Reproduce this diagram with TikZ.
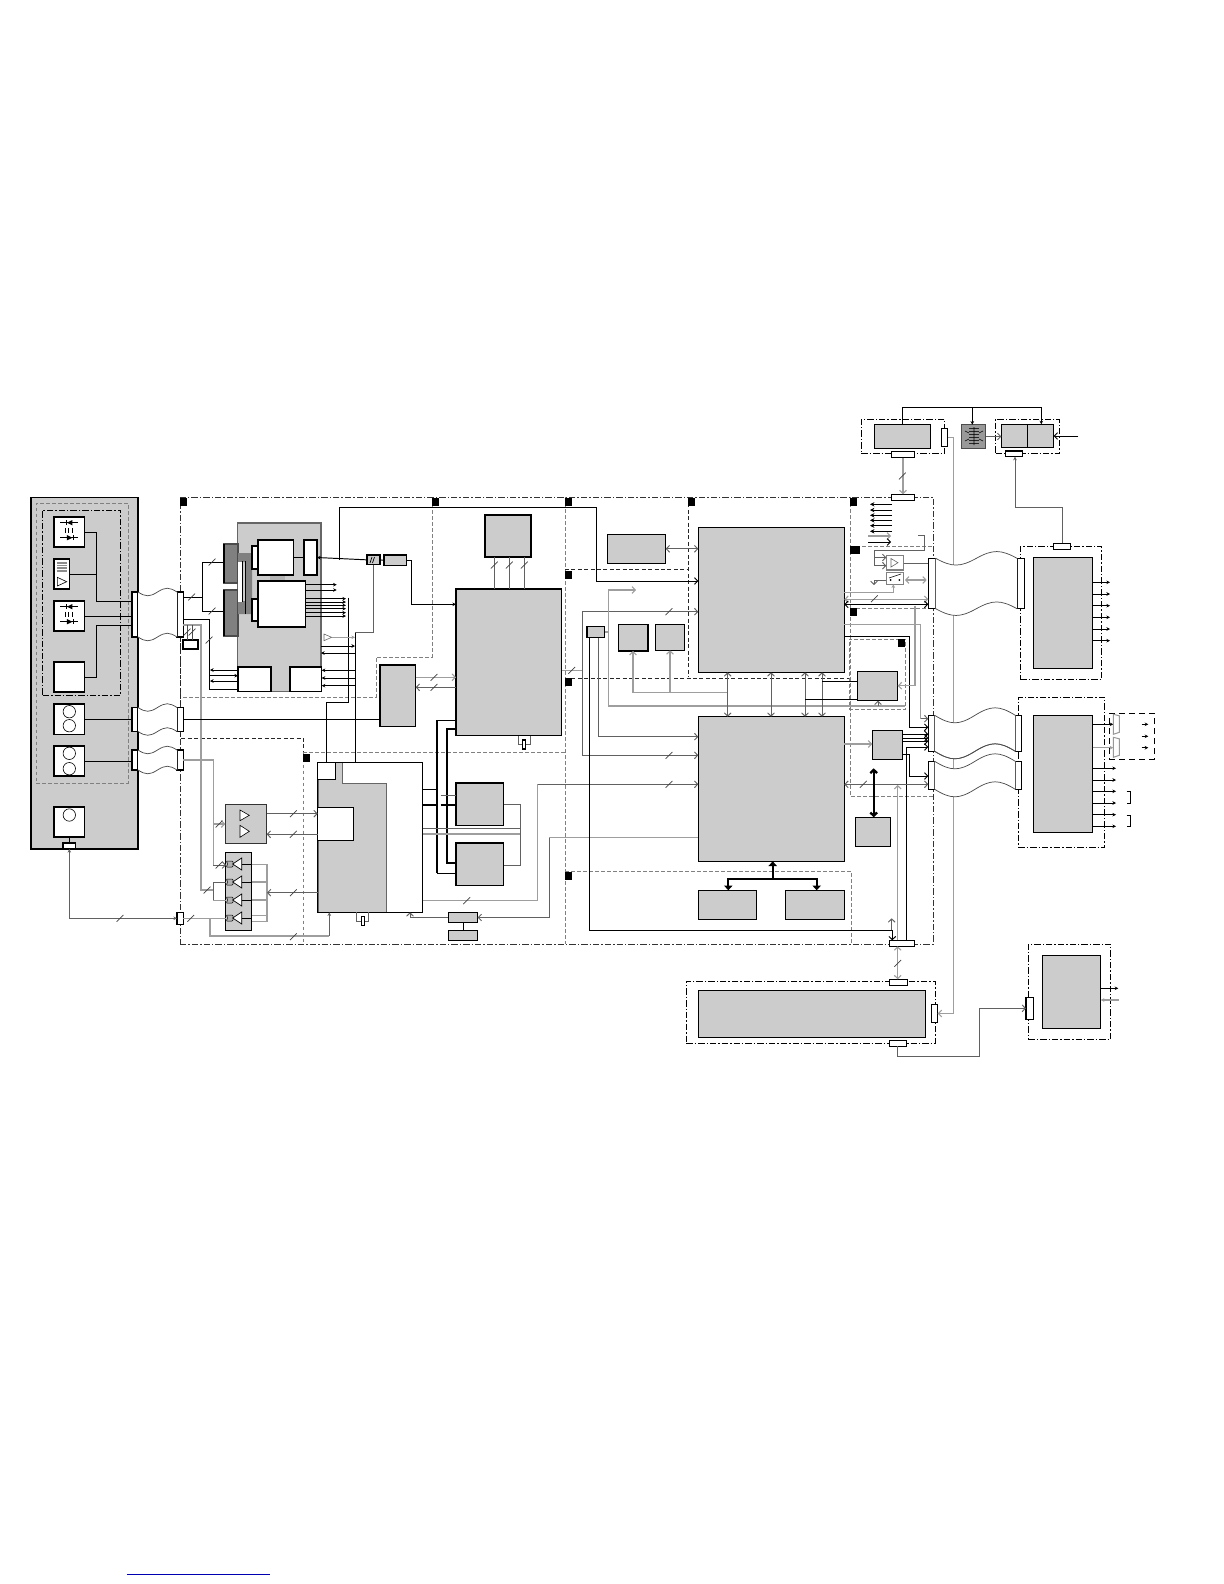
\documentclass[tikz,border=0pt]{standalone}
\usetikzlibrary{arrows.meta, calc}
\definecolor{BlockGrey}{HTML}{CCCCCC}
\definecolor{DarkBlock}{HTML}{808080}
\tikzset{
  outline/.style={draw, line width=.55bp, inner sep=0pt, outer sep=0pt},
  span/.style n args={4}{minimum width={(#3-#1)*0.5bp}, minimum height={(#4-#2)*0.5bp},
    at={({(#1+#3)/2},{(#2+#4)/2})}},
  greyblock/.style={outline, fill=BlockGrey},
  darkblock/.style={outline, fill=DarkBlock, draw=black!70},
  whiteblock/.style={outline, fill=white},
  framebox/.style={draw=black!80, line width=.42bp, inner sep=0pt, outer sep=0pt,
    dash pattern=on 3.2bp off 1bp on .7bp off 1bp},
  zonebox/.style={draw=black!50, line width=.42bp, inner sep=0pt, outer sep=0pt,
    dash pattern=on 1.8bp off 1.2bp},
  zone/.style={draw=black!50, line width=.42bp, dash pattern=on 1.8bp off 1.2bp},
  zonedark/.style={draw=black!85, line width=.4bp, dash pattern=on 2bp off 1.2bp},
  blackmark/.style={fill=black, inner sep=0pt, outer sep=0pt, minimum width=3.5bp, minimum height=4.2bp, anchor=north west},
  wire/.style={line width=.48bp},
  wiredark/.style={line width=.48bp, black!62},
  wirelight/.style={line width=.55bp, black!38},
  wirethick/.style={line width=1.15bp},
  wavewire/.style={line width=.36bp, black!70},
  busmark/.style={line width=.36bp, black!75},
  head/.tip={Stealth[length=1.8bp,width=1.8bp]},
  bushead/.tip={Triangle[length=2.4bp,width=4.2bp]},
}
\newcommand{\wavecurve}[3]{(#1) .. controls ($(#1)!.2!(#2)+(0,#3)$) and ($(#1)!.3!(#2)+(0,#3)$)
  .. ($(#1)!.5!(#2)$) .. controls ($(#1)!.7!(#2)-(0,#3)$) and ($(#1)!.8!(#2)-(0,#3)$) .. (#2)}
\newcommand{\ribbon}[3]{
  \fill[white] \wavecurve{#1.north east}{#2.north west}{#3} -- \wavecurve{#2.south west}{#1.south east}{-#3} -- cycle;
  \draw[wavewire] \wavecurve{#1.north east}{#2.north west}{#3};
  \draw[wavewire] \wavecurve{#1.south east}{#2.south west}{#3};
}
\newcommand{\diodes}[1]{
  \begin{scope}[shift={(#1)}, line width=.35bp]
    \draw (-9,-9.3) -- (9,-9.3) (-3,-12) -- (-3,-6.6);
    \fill (-2.5,-9.3) -- (3,-12) -- (3,-6.6) -- cycle;
    \draw (-9,5.7) -- (9,5.7) (3.5,3) -- (3.5,8.4);
    \fill (3,5.7) -- (-2.5,3) -- (-2.5,8.4) -- cycle;
    \draw (-4,-4) -- (-4,1) (-.7,-4) -- (-.7,1) (2.7,-4) -- (2.7,1);
  \end{scope}
}
\begin{document}
\begin{tikzpicture}[x=0.5bp, y=-0.5bp, >={Straight Barb[length=1.6bp,width=3.4bp]}]
  \useasboundingbox (0,0) rectangle (1224,1584);
  % left panel
  \node[greyblock, span={31}{497.5}{138}{849}] (panel) {};
  \node[zonebox, span={36.3}{503}{128}{783}] (panelzone) {};
  \node[framebox, draw=black, span={42.7}{510}{120.7}{695}] (opticzone) {};
  \node[whiteblock, span={54}{517}{84.7}{547}] (optica) {};
  \node[whiteblock, span={54}{559}{69.7}{589}] (driver) {};
  \node[whiteblock, span={54}{601}{84.7}{631}] (opticb) {};
  \node[whiteblock, span={54}{662}{84.7}{692}] (lens) {};
  \node[whiteblock, span={54}{704}{84.7}{734.5}] (fana) {};
  \node[whiteblock, span={54}{746}{84.7}{776}] (fanb) {};
  \node[whiteblock, span={54}{807}{84.7}{837}] (fanc) {};
  \node[whiteblock, span={63}{843}{75.7}{849}] (panelport) {};
  \node[whiteblock, span={132}{592}{138}{637}] (lpa) {};
  \node[whiteblock, span={132}{707.5}{138}{731.5}] (lpb) {};
  \node[whiteblock, span={132}{750}{138}{770}] (lpc) {};
  \diodes{69.4,532}
  \diodes{69.4,616}
  \fill[black!45] (57.3,561.7) rectangle (66.7,571.7);
  \foreach \sy in {564,566.5,569} \draw[white, line width=.3bp] (57.3,\sy) -- (66.7,\sy);
  \draw[line width=.3bp] (57.3,577.3) -- (66.7,581.7) -- (57.3,586) -- cycle;
  \foreach \cx/\cy in {69.3/711.7, 69.3/725.7, 69.3/753.3, 69.3/768.7, 69.3/815}
    \draw[line width=.3bp] (\cx,\cy) circle (6.2);
  % board and zones
  \node[framebox, span={180}{497}{933}{944}] (board) {};
  \draw[zone] (183,697) -- (376,697) -- (376,657) -- (432,657) -- (432,497);
  \draw[zonedark] (180,637) -- (180,738) -- (303,738) -- (303,752.7);
  \draw[zone] (303,752.7) -- (565,752.7) (303,752.7) -- (303,944);
  \draw[zone] (565,497) -- (565,944);
  \draw[zonedark] (565,569.3) -- (688,569.3) (688,497) -- (688,676.7) (565,678) -- (850,678);
  \draw[zone] (850,497) -- (850,796) -- (933,796) (850,546) -- (933,546) (850,608) -- (933,608);
  \draw[zone] (565,871.7) -- (851.7,871.7) -- (851.7,944);
  \node[zonebox, span={849}{639}{905.5}{709}] (sensezone) {};
  \foreach \mx/\my [count=\mi] in {180/497.5, 432/497.5, 565/497.5, 688/497.5, 850/497.5, 565/571, 565/678, 565/872, 303/754, 850/608, 898/639}
    \node[blackmark] (mark\mi) at (\mx,\my) {};
  \node[blackmark, minimum width=5bp] (markwide) at (850,546) {};
  % video block
  \node[greyblock, draw=black!60, span={237.7}{523}{321}{691.7}] (video) {};
  \node[darkblock, span={224}{544}{238}{583}] (ddra) {};
  \node[darkblock, span={224}{590}{238}{636}] (ddrb) {};
  \draw[line width=1bp] (224,544) -- (224,583) (224,590) -- (224,636);
  \fill[DarkBlock] (238,553) rectangle (252,562) (238,601) rectangle (252,614) (245,562) rectangle (252,601);
  \fill[white] (238,562) rectangle (242.7,601.5);
  \draw[wire] (242.7,561) -- (242.7,601.5) (245.5,561) -- (245.5,614);
  \fill[DarkBlock!60] (270,575) rectangle (285,581);
  \node[whiteblock, span={258}{540}{293.7}{575}] (viewa) {};
  \node[whiteblock, span={252}{546}{258}{569}] (taba) {};
  \node[whiteblock, span={258}{581}{305.7}{627}] (viewb) {};
  \node[whiteblock, span={252}{599}{258}{621}] (tabb) {};
  \node[whiteblock, span={304}{540}{317}{575}] (buffer) {};
  \node[whiteblock, span={238}{667}{271}{691.7}] (ioa) {};
  \node[whiteblock, span={290}{667}{321.7}{691.7}] (iob) {};
  \draw[wire] (viewa.east) -- (buffer.west);
  \node[whiteblock, span={177}{592}{183.3}{637}] (rpa) {};
  \node[whiteblock, span={177}{707.5}{183.3}{731.5}] (rpb) {};
  \node[whiteblock, span={177}{750}{183.3}{770}] (rpc) {};
  \node[whiteblock, span={177}{912.3}{183.3}{924.3}] (rearport) {};
  \node[whiteblock, span={183}{640}{198}{649}] (usb) {};
  % processors and memories
  \node[greyblock, span={367}{555}{380}{564.7}] (hfilt) {};
  \node[greyblock, span={384}{555}{406.7}{565.7}] (hgate) {};
  \node[greyblock, span={380}{665}{415.7}{726.7}] (bridge) {};
  \node[greyblock, span={485}{515}{531}{557}] (flash) {};
  \node[greyblock, span={456}{589}{561.7}{735.7}] (decoder) {};
  \node[greyblock, span={456}{783}{503.7}{825.7}] (rama) {};
  \node[greyblock, span={456}{843}{503.7}{885.7}] (ramb) {};
  \node[whiteblock, span={317.7}{762.3}{422.7}{912.3}] (ctrl) {};
  \fill[BlockGrey, draw=black!60, line width=.45bp] (342.7,762.6) -- (342.7,783.3) -- (386.7,783.3) -- (386.7,912) -- (318,912) -- (318,762.6) -- cycle;
  \node[whiteblock, span={317.7}{762.3}{335.7}{779.7}] (ctrltab) {};
  \node[whiteblock, span={317.7}{807.3}{353.7}{840.3}] (ctrlcore) {};
  \draw[line width=.55bp] (ctrl.north west) rectangle (ctrl.south east);
  \node[greyblock, span={448.3}{912.3}{477.7}{922.7}] (slota) {};
  \node[greyblock, span={448.3}{930.3}{477.7}{940.7}] (slotb) {};
  \node[whiteblock, span={361.3}{916.7}{364.7}{925.7}] (xtalb) {};
  \node[whiteblock, span={522.3}{740}{525.7}{749}] (xtala) {};
  \node[greyblock, span={607.3}{534.3}{665.7}{563.3}] (cache) {};
  \node[greyblock, span={587}{626.3}{604.7}{637.7}] (clock) {};
  \node[greyblock, span={618.3}{624.7}{648}{651}] (tuna) {};
  \node[greyblock, span={655.3}{624.7}{684.7}{650.3}] (tunb) {};
  \node[greyblock, span={698.3}{527.3}{844.3}{672.3}] (cpua) {};
  \node[greyblock, span={698.3}{716.7}{844.3}{861.3}] (cpub) {};
  \node[greyblock, span={698.3}{890.3}{756.7}{919.3}] (dram) {};
  \node[greyblock, span={785.3}{890.3}{844.3}{919.3}] (rom) {};
  \node[greyblock, span={857.3}{671.3}{897.7}{700.7}] (sense) {};
  \node[greyblock, span={872.3}{730.3}{902.7}{759.3}] (lvds) {};
  \node[greyblock, span={855.3}{817.3}{890.7}{846.7}] (eprom) {};
  % audio and gates
  \node[greyblock, draw=black!80, span={225.3}{804.3}{266.7}{843.3}] (amp) {};
  \node[greyblock, span={225.3}{852.3}{251.7}{930.7}] (gates) {};
  \draw[fill=white, line width=.3bp] (240,810) -- (249.3,815.3) -- (240,820.7) -- cycle;
  \draw[fill=white, line width=.3bp] (240,825.3) -- (249.3,831.3) -- (240,837.3) -- cycle;
  \foreach \gy in {864,882,900,918} {
    \draw[fill=black!30, line width=.25bp, rounded corners=.5pt] (226,\gy-3) -- (233,\gy-3) -- (233,\gy+3) -- (226,\gy+3) -- (228,\gy) -- cycle;
    \draw[fill=white, line width=.35bp] (241.7,\gy-6) -- (232.7,\gy) -- (241.7,\gy+6) -- cycle;
    \draw[wire] (241.7,\gy) -- (gates.east |- 0,\gy);
  }
  % right hand units
  \node[framebox, draw=black, span={861.3}{419}{944.7}{453.3}] (psuzone) {};
  \node[greyblock, span={874.3}{424.3}{930.3}{448.3}] (psu) {};
  \node[whiteblock, span={941.3}{428.3}{947.7}{446.7}] (psuport) {};
  \node[whiteblock, span={891.3}{451.3}{914.7}{457.7}] (psulow) {};
  \node[greyblock, fill=black!40, draw=black!70, span={961.7}{424.7}{985.7}{448.3}] (trafo) {};
  \node[framebox, draw=black, span={995.7}{419}{1059.3}{453.3}] (invzone) {};
  \node[greyblock, span={1001.3}{424.3}{1053.7}{447.3}] (inv) {};
  \draw[wire] (1027.3,424.3) -- (1027.3,447.3);
  \node[whiteblock, span={1005.3}{451}{1022.7}{456.7}] (invport) {};
  \node[whiteblock, span={891.3}{494.3}{914.7}{500.3}] (boardtop) {};
  \node[framebox, draw=black, span={1020.3}{546.3}{1101.7}{679.3}] (drvzone) {};
  \node[greyblock, span={1033.7}{557.3}{1092.7}{668.3}] (drv) {};
  \node[whiteblock, span={1053.3}{543.3}{1070.7}{549.3}] (drvport) {};
  \node[framebox, draw=black, span={1018.3}{697.3}{1104.7}{847.3}] (tconzone) {};
  \node[greyblock, span={1033.7}{715.3}{1092.7}{832.3}] (tcon) {};
  \node[framebox, draw=black, dash pattern=on 3bp off 2bp, span={1109.3}{713.3}{1154}{759.3}] (outzone) {};
  \node[whiteblock, span={928.3}{558.3}{935.7}{608.7}] (ribal) {};
  \node[whiteblock, span={1017}{558.3}{1024.3}{608.7}] (ribar) {};
  \node[whiteblock, span={928.3}{715.3}{934.7}{751.3}] (ribbl) {};
  \node[whiteblock, span={1015.3}{715.3}{1021.7}{751.3}] (ribbr) {};
  \node[whiteblock, span={928.3}{761.3}{934.7}{789.3}] (ribcl) {};
  \node[whiteblock, span={1015.3}{761.3}{1021.7}{789.3}] (ribcr) {};
  \node[whiteblock, span={889.3}{940.3}{914.3}{946.3}] (boardlow) {};
  \node[framebox, draw=black, span={686.3}{981.3}{935}{1043.3}] (tunerzone) {};
  \node[greyblock, span={698.3}{990.3}{925.7}{1037.3}] (tuner) {};
  \node[whiteblock, span={889.3}{979.3}{907.7}{985.3}] (tunertop) {};
  \node[whiteblock, span={931.3}{1004.3}{937.7}{1022.7}] (tunerside) {};
  \node[whiteblock, span={889.3}{1040.3}{906.7}{1046.3}] (tunerlow) {};
  \node[framebox, draw=black, span={1028.3}{944}{1110.7}{1039.3}] (modzone) {};
  \node[greyblock, span={1042.3}{955.3}{1100.7}{1028.3}] (mod) {};
  \node[whiteblock, span={1026}{997.3}{1033.3}{1019.3}] (modport) {};
  \node[outline, draw=black!50, fill=white, span={886.3}{555.3}{903.7}{570}] (ampbox) {};
  \node[outline, draw=black!50, fill=white, span={886.3}{572.7}{903.7}{584.3}] (switch) {};
  \draw[line width=.3bp, black!60] (891,558.5) -- (898,562.7) -- (891,567) -- cycle;
  \fill (890.7,580) circle (1) (899.3,580) circle (1);
  \draw[line width=.3bp] (889,578) -- (901,574);
  % panel wiring
  \draw[wire] (optica.east |- 0,532.3) -| (96.3,601.3) -- (lpa.west |- 0,601.3);
  \draw[wire] (driver.east |- 0,574.3) -- (96.3,574.3);
  \draw[wire] (opticb.east |- 0,616.3) -- (lpa.west |- 0,616.3);
  \draw[wire] (lens.east) -| (96.3,625.3) -- (lpa.west |- 0,625.3);
  \draw[wire] (fana.east) -- (lpb.west |- fana.east);
  \draw[wire] (fanb.east) -- (lpc.west |- fanb.east);
  \draw[wire] (fanc.south) -- (panelport.north);
  \draw[wiredark, head-head] (panelport.south) |- (rearport.west);
  % video wiring
  \draw[wire] (rpa.east |- 0,597) -- (202,597);
  \draw[wire] (ddra.west |- 0,562) -| (202,611) -- (ddrb.west |- 0,611);
  \draw[wire] (rpa.east |- 0,619) -| (209.3,689) -- (ioa.west |- 0,689);
  \draw[wire, head-] (210,670) -- (ioa.west |- 0,670);
  \draw[wire, -head] (209.3,675.7) -- (ioa.west |- 0,675.7);
  \draw[wire, head-] (210,681) -- (ioa.west |- 0,681);
  \draw[wirelight] (rpa.east |- 0,625) -| (201,890) -- (213.3,890);
  \draw[wire, black!70] (usb.north -| 187,0) -- (187,625) (usb.north -| 192,0) -- (192,625);
  \draw[wire] (rpb.east) -- (bridge.west |- rpb.east);
  \draw[wire, -head] (viewb.east |- 0,584.7) -- (336.7,584.7);
  \draw[wire, -head] (viewb.east |- 0,590) -- (336.7,590);
  \foreach \oy in {598.7,602,605.3,608.7,612.7,616}
    \draw[wire, -head] (viewb.east |- 0,\oy) -- (346,\oy);
  \draw[wire] (348.7,597.7) |- (326.7,702.3) -- (ctrltab.north -| 326.7,0);
  \draw[wiredark] (hfilt.south) |- (355,632.7);
  \draw[wire] (355,632.7) -- (ctrl.north -| 355,0);
  \draw[line width=.3bp, black!60] (324,634) -- (331.7,637.3) -- (324,640.7) -- cycle;
  \draw[wirelight, -head] (331.7,637.3) -- (355,637.3);
  \draw[wire, -head] (video.east |- 0,646) -- (355,646);
  \draw[wire, head-] (video.east |- 0,653) -- (355,653);
  \foreach \oy in {670.3,678,685.7}
    \draw[wire, head-] (iob.east |- 0,\oy) -- (355,\oy);
  \draw[wire, head-] (buffer.east) -- (hfilt.west);
  \draw[wire] (hfilt.east) -- (hgate.west);
  \draw[line width=.35bp] (370,563) -- (372,557) (372.5,563) -- (374.5,557);
  \draw[wire, ->] (339.7,559.5) |- (596,507) |- (cpua.west |- 0,581);
  \draw[wire, -head] (hgate.east) -| (411,604.3) -- (decoder.west |- 0,604.3);
  \foreach \tx in {494.3,509.3,524.3}
    \draw[wiredark] (flash.south -| \tx,0) -- (decoder.north -| \tx,0);
  \draw[wirelight, ->] (bridge.east |- 0,677.3) -- (decoder.west |- 0,677.3);
  \draw[wiredark, ->] (decoder.west |- 0,687.3) -- (bridge.east |- 0,687.3);
  \draw[wire] (decoder.west |- 0,720) -- (437.3,720) (437.3,873.3) -- (ramb.west |- 0,873.3);
  \draw[wirethick] (437.3,720) -- (437.3,873.3);
  \draw[wirethick] (decoder.west |- 0,729.3) -| (446.7,863.3) -- (ramb.west |- 0,863.3);
  \draw[wire] (ctrl.east |- 0,789.3) -- (437.3,789.3);
  \draw[wirethick] (ctrl.east |- 0,805) -- (436,805) (440.5,805) -- (rama.west |- 0,805);
  \draw[wiredark] (440.5,795.3) -- (rama.west |- 0,795.3);
  \draw[wiredark] (ctrl.east |- 0,828.7) -- (520,828.7);
  \draw[wirelight] (ctrl.east |- 0,834) -- (520,834);
  \draw[wiredark] (rama.east |- 0,804.3) -| (520,865.7) -- (ramb.east |- 0,865.7);
  \draw[wire] (slota.south) -- (slotb.north);
  \draw[wiredark] (ctrl.south -| 356.7,0) |- (xtalb.west);
  \draw[wiredark] (ctrl.south -| 368.7,0) |- (xtalb.east);
  \draw[wiredark] (decoder.south -| 518.3,0) |- (xtala.west);
  \draw[wiredark] (decoder.south -| 530,0) |- (xtala.east);
  % lower left wiring
  \draw[wirelight] (rpc.east) -| (213.3,865);
  \draw[wirelight, ->] (213.3,824) -- (amp.west |- 0,824);
  \draw[wiredark, ->] (213.3,865) -- (226,865);
  \draw[wiredark] (213.3,882.3) -- (226,882.3) (213.3,882.3) -- (213.3,900.3);
  \draw[wirelight] (213.3,900.3) -- (226,900.3);
  \draw[wirelight] (rearport.east) -- (226,918.3);
  \draw[wiredark, ->] (amp.east |- 0,813.7) -- (ctrl.west |- 0,813.7);
  \draw[wiredark, ->] (ctrl.west |- 0,834.3) -- (amp.east |- 0,834.3);
  \draw[wirelight] (gates.east |- 0,864.3) -| (267,921.3) -- (gates.east |- 0,921.3);
  \draw[wirelight] (gates.east |- 0,882) -- (267,882) (gates.east |- 0,900) -- (267,900) (gates.east |- 0,915.7) -- (267,915.7);
  \draw[wiredark, ->] (ctrl.west |- 0,892.7) -- (267,892.7);
  \draw[wirelight] (210,918.3) |- (329.3,936);
  \draw[wiredark, -head] (329.3,936) -- (ctrl.south -| 329.3,0);
  \draw[wirelight] (ctrl.east |- 0,900.7) -| (537.7,784.3);
  \draw[wiredark, ->] (537.7,784.3) -- (cpub.west |- 0,784.3);
  \draw[wiredark, ->] (slota.west) -| (410,912.3);
  \draw[wiredark, <-] (slota.east) -| (549,837.3);
  \draw[wirelight] (549,837.3) -- (cpub.west |- 0,837.3);
  % processor wiring
  \draw[wirelight] (decoder.east |- 0,670.3) -- (582.3,670.3);
  \draw[wiredark, ->] (582.3,755.3) |- (cpua.west |- 0,611.7);
  \draw[wiredark, ->] (582.3,755.3) -- (cpub.west |- 0,755.3);
  \draw[wiredark, <->] (cache.east) -- (cpua.west |- cache.east);
  \draw[wire, ->] (clock.south -| 589.3,0) |- (892.3,930.3) -- (boardlow.north -| 892.3,0);
  \draw[wiredark, ->] (clock.south -| 598.3,0) |- (cpub.west |- 0,736.7);
  \draw[wirelight, ->] (608.3,706) |- (636,590);
  \draw[wirelight] (608.3,632) -- (clock.east |- 0,632);
  \draw[wirelight] (608.3,706) -- (905,706);
  \draw[wiredark, ->] (878,706) -- (sense.south -| 878,0);
  \draw[wirelight] (633,692.7) -- (727.7,692.7);
  \draw[wirelight, ->] (633,692.7) -- (tuna.south -| 633,0);
  \draw[wirelight, ->] (670,692.7) -- (tunb.south -| 670,0);
  \foreach \vx in {727.7,771,805,822}
    \draw[wiredark, <->] (cpua.south -| \vx,0) -- (cpub.north -| \vx,0);
  \draw[wire] (822,681.3) -- (sense.west |- 0,681.3) (805,699.3) -- (sense.west |- 0,699.3);
  \draw[wirethick, -bushead] (772.7,879.3) -- (cpub.south -| 772.7,0);
  \draw[wirethick, -bushead] (772.7,879.3) -| (dram.north -| 728.3,0);
  \draw[wirethick, -bushead] (772.7,879.3) -| (rom.north -| 816.7,0);
  % upper right wiring
  \draw[wire, -head] (psu.north) |- (1041.3,407.7) -- (inv.north -| 1041.3,0);
  \draw[wire, -head] (972.3,407.7) -- (trafo.north -| 972.3,0);
  \draw[wiredark, ->] (trafo.east) -- (inv.west |- trafo.east);
  \draw[wire, ->] (1078.3,436) -- (inv.east |- 0,436);
  \draw[wirelight, ->] (psulow.south) -- (boardtop.north);
  \draw[wirelight, <-] (tunerside.east) -| (953.3,437.3) -- (psuport.east |- 0,437.3);
  \draw[wiredark, -head] (drvport.north) |- (1015,507) -- (invport.south -| 1015,0);
  \foreach \ay in {504.3,510,515.3,520.3,525.7,531.3}
    \draw[wire, -{Stealth[length=2.2bp,width=2.2bp]}] (892,\ay) -- (870,\ay);
  \draw[wirelight, ->] (868.3,536) -- (891,536);
  \draw[wire, ->] (868.3,542) -- (891,542);
  \draw[wiredark] (918,535.7) -| (924,550.3) -| (874,565.7);
  \draw[wiredark, ->] (874,557.5) -- (ampbox.west |- 0,557.5);
  \draw[wiredark, ->] (874,565.7) -- (ampbox.west |- 0,565.7);
  \draw[wiredark] (ampbox.east |- 0,563.3) -- (ribal.west |- 0,563.3);
  \draw[wiredark, ->] (switch.west |- 0,580) -| (874,585);
  \draw[wirelight, <->] (905,580) -- (926.7,580);
  \draw[wirelight, -head] (cpua.east |- 0,592.3) -| (893.3,584.3);
  \draw[wirelight, <->] (cpua.east |- 0,599.3) -- (ribal.west |- 0,599.3);
  \draw[wire, <->] (cpua.east |- 0,604.3) -- (ribal.west |- 0,604.3);
  \draw[wirelight] (cpua.east |- 0,624.3) -| (920.7,718.7);
  \draw[wiredark, ->] (920.7,718.7) -- (ribbl.west |- 0,718.7);
  \draw[wire, ->] (cpua.east |- 0,636.7) -| (909.3,727.3) -- (ribbl.west |- 0,727.3);
  \draw[wirelight, ->] (915,605.7) |- (sense.east |- 0,685.7);
  \draw[wirelight, ->] (cpub.east |- 0,744) -- (lvds.west |- 0,744);
  \foreach \ly in {734.3,738,741.3}
    \draw[wire, ->] (lvds.east |- 0,\ly) -- (ribbl.west |- 0,\ly);
  \draw[wire, ->] (lvds.east |- 0,754.3) -| (909.3,776) -- (ribcl.west |- 0,776);
  \draw[wire, ->] (boardlow.north -| 906.3,0) |- (ribbl.west |- 0,747);
  \draw[wiredark, <->] (cpub.east |- 0,784.3) -- (ribcl.west |- 0,784.3);
  \draw[wirelight, ->] (boardlow.north -| 897.7,0) -- (897.7,785);
  \draw[wirethick, <->] (873.7,768.3) -- (eprom.north -| 873.7,0);
  \draw[wiredark, ->] (891.7,930.3) -- (891.7,918.3);
  \draw[wirelight, <->] (boardlow.south -| 897.7,0) -- (tunertop.north -| 897.7,0);
  \draw[wiredark, ->] (tunerlow.south -| 897.3,0) |- (979.3,1056) |- (modport.west |- 0,1008.3);
  \foreach \oy in {582.3,594,605.7,617.3,629,640.7}
    \draw[wire, -head] (drv.east |- 0,\oy) -- (1110,\oy);
  \foreach \oy in {768.3,780,791.3,803,814.7,826.3}
    \draw[wire, -head] (tcon.east |- 0,\oy) -- (1116,\oy);
  \draw[wire, -head] (tcon.east |- 0,724.3) -- (1113.3,724.3);
  \draw[wirelight, -head] (tcon.east |- 0,747.7) -- (1113.3,747.7);
  \foreach \ty in {714.3,737.3}
    \draw[fill=white, draw=black!40, line width=.5bp] (1113.3,\ty) -- (1119.3,\ty+1.5) -- (1119.3,\ty+18) -- (1113.3,\ty+20) -- cycle;
  \foreach \ay in {724.3,736.3,747.7}
    \draw[wire, -head] (1141.7,\ay) -- (1148.3,\ay);
  \draw[wire] (1126.7,791.3) -- (1130.7,791.3) -- (1130.7,803.3) -- (1126.7,803.3);
  \draw[wire] (1126.7,815.3) -- (1130.7,815.3) -- (1130.7,826.7) -- (1126.7,826.7);
  \draw[wire, -head] (mod.east |- 0,988.3) -- (1118.3,988.3);
  \draw[wirelight, -head] (1119,1000) -- (mod.east |- 0,1000);
  \foreach \wy in {428.5,431.5,434.5,437.5,440.5,443.5}
    \draw[line width=.3bp, black!85] (969,\wy) -- (979,\wy);
  \draw[line width=.3bp] (974,427) -- (974,445) (965,431) -- (969,433) (965,441) -- (969,439) (979,433) -- (983,431) (979,439) -- (983,441);
  % bus marks
  \foreach \sx/\sy in {191.7/597, 212/562, 212/611, 209/640, 187/632, 192/632, 120/918.3, 190.7/918.3,
      219/824, 219/865, 207/890, 293.3/813.7, 293.3/834.3, 293.3/892.7, 293.3/936.7,
      434/677.3, 434/687.3, 494.3/565, 509.3/565, 524.3/565, 571.7/670.3, 466.7/900.7,
      669/611.7, 669/755.3, 669/784.3, 874.3/598.7, 863.3/784.3, 902.3/476, 897.7/963.3}
    \draw[busmark] (\sx-3.4,\sy+3.4) -- (\sx+3.4,\sy-3.4);
  % ribbons
  \ribbon{lpa}{rpa}{5}
  \ribbon{lpb}{rpb}{5}
  \ribbon{lpc}{rpc}{5}
  \ribbon{ribal}{ribar}{9}
  \ribbon{ribbl}{ribbr}{10}
  \ribbon{ribcl}{ribcr}{10}
  \draw[wavewire] \wavecurve{ribbl.south east}{ribbr.south west}{10};
  \draw[blue!70!black, line width=.4bp] (127,1574) -- (270,1574);
\end{tikzpicture}
\end{document}
